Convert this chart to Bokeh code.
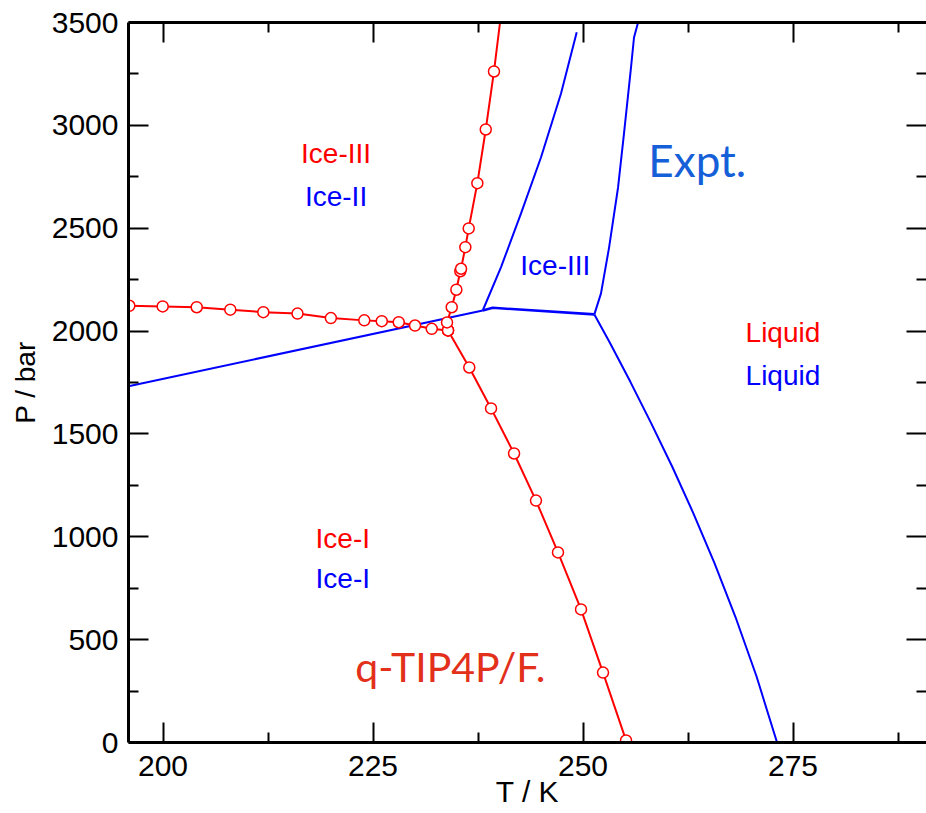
from bokeh.plotting import figure
from bokeh.models import Range1d, LinearAxis, FixedTicker, ColumnDataSource
from bokeh.core.properties import value
from bokeh.embed import file_html
from bokeh.resources import INLINE

# ---------------- data ----------------
# q-TIP4P/F. simulated coexistence lines (red, open circles)
sim_ice1_liq_T = [255.12, 252.38, 249.76, 247.02, 244.40, 241.79, 239.05, 236.46, 233.93]
sim_ice1_liq_P = [10, 340, 647, 924, 1176, 1405, 1624, 1823, 2003]

sim_ice1_ice3_T = [195.99, 199.96, 204.01, 208.01, 211.94, 216.01, 219.98, 223.96,
                   226.04, 228.06, 230.00, 231.99, 233.93]
sim_ice1_ice3_P = [2123, 2120, 2116, 2104, 2092, 2085, 2063, 2052, 2048, 2043, 2027, 2011, 2003]

sim_ice3_ice2_T = [233.93, 233.81, 234.37, 234.92, 235.39, 235.48, 235.99, 236.39,
                   237.42, 238.42, 239.40, 240.30]
sim_ice3_ice2_P = [2003, 2042, 2116, 2201, 2291, 2303, 2408, 2499, 2719, 2980, 3262, 3560]

# Experimental coexistence lines (blue)
exp_ice1_ice2_T = [195.89, 238.06]
exp_ice1_ice2_P = [1732, 2100]

exp_ice1_ice3_T = [238.06, 239.25, 251.35]
exp_ice1_ice3_P = [2100, 2113, 2081]

exp_ice2_ice3_T = [238.06, 240.24, 242.62, 245.00, 247.38, 249.25]
exp_ice2_ice3_P = [2100, 2311, 2572, 2845, 3155, 3453]

exp_ice3_liq_T = [251.35, 252.14, 253.10, 254.17, 254.88, 255.71, 256.07, 256.55, 256.67]
exp_ice3_liq_P = [2081, 2183, 2406, 2698, 2961, 3281, 3427, 3500, 3559]

exp_ice1_liq_T = [273.10, 270.65, 268.15, 265.65, 263.15, 260.65, 258.15, 255.65, 253.15, 251.35]
exp_ice1_liq_P = [0, 322, 610, 872, 1113, 1338, 1549, 1752, 1947, 2081]

# Phase labels
phase_text = ["Ice-III", "Ice-II", "Ice-III", "Liquid", "Liquid", "Ice-I", "Ice-I"]
phase_T = [220.6, 220.6, 246.7, 273.8, 273.8, 221.4, 221.4]
phase_P = [2864, 2655, 2320, 1995, 1786, 990, 796]
phase_color = ["#ff0000", "#0000ff", "#0000ff", "#ff0000", "#0000ff", "#ff0000", "#0000ff"]

x_major = [200, 225, 250, 275]
x_minor = [212.5, 237.5, 262.5, 287.5]
y_major = [0, 500, 1000, 1500, 2000, 2500, 3000, 3500]
y_minor = [250, 750, 1250, 1750, 2250, 2750, 3250]

RED = "#ff0000"
BLUE = "#0000ff"

# ---------------- figure ----------------
p = figure(width=926, height=813,
           x_range=Range1d(195.89, 290.89), y_range=Range1d(0, 3500),
           output_backend="svg", toolbar_location=None,
           min_border_left=128, min_border_right=0, min_border_top=22, min_border_bottom=71,
           x_axis_label="T / K", y_axis_label="P / bar")
p.outline_line_color = None
p.xgrid.visible = False
p.ygrid.visible = False
p.background_fill_color = "white"
p.border_fill_color = "white"

bottom_axis = p.below[0]
left_axis = p.left[0]
top_axis = LinearAxis()
right_axis = LinearAxis()
p.add_layout(top_axis, "above")
p.add_layout(right_axis, "right")

def style_axis(ax, major, minor, labels=True):
    ax.ticker = FixedTicker(ticks=major, minor_ticks=minor)
    ax.axis_line_width = 3
    ax.axis_line_color = "black"
    ax.major_tick_in = 20
    ax.major_tick_out = 0
    ax.minor_tick_in = 10
    ax.minor_tick_out = 0
    ax.major_tick_line_width = 2
    ax.minor_tick_line_width = 2
    ax.major_tick_line_color = "black"
    ax.minor_tick_line_color = "black"
    if labels:
        ax.major_label_text_font = "Liberation Sans"
        ax.major_label_text_font_size = "30px"
        ax.major_label_text_color = "black"
        ax.axis_label_text_font = "Liberation Sans"
        ax.axis_label_text_font_size = "30px"
        ax.axis_label_text_font_style = "normal"
        ax.axis_label_text_color = "black"
    else:
        ax.major_label_overrides = {t: "" for t in major}
        ax.major_label_text_font_size = "1px"
        ax.major_label_standoff = 0
        ax.axis_label = None

style_axis(bottom_axis, x_major, x_minor)
style_axis(left_axis, y_major, y_minor)
style_axis(top_axis, x_major, x_minor, labels=False)
style_axis(right_axis, y_major, y_minor, labels=False)
right_axis.axis_line_color = None

bottom_axis.major_label_standoff = 13
bottom_axis.axis_label_standoff = -4
left_axis.major_label_standoff = 10
left_axis.axis_label_standoff = 8
left_axis.axis_label_text_font_size = "28px"

# experimental lines
for T, P in [(exp_ice1_ice2_T, exp_ice1_ice2_P), (exp_ice2_ice3_T, exp_ice2_ice3_P),
             (exp_ice3_liq_T, exp_ice3_liq_P), (exp_ice1_liq_T, exp_ice1_liq_P)]:
    p.line(T, P, line_color=BLUE, line_width=2)
p.line(exp_ice1_ice3_T, exp_ice1_ice3_P, line_color=BLUE, line_width=2.6)

# simulated lines
for T, P in [(sim_ice1_liq_T, sim_ice1_liq_P), (sim_ice1_ice3_T, sim_ice1_ice3_P),
             (sim_ice3_ice2_T, sim_ice3_ice2_P)]:
    p.line(T, P, line_color=RED, line_width=2)
for T, P in [(sim_ice1_liq_T, sim_ice1_liq_P), (sim_ice1_ice3_T, sim_ice1_ice3_P),
             (sim_ice3_ice2_T, sim_ice3_ice2_P)]:
    p.scatter(T, P, marker="circle", size=11, line_color=RED, line_width=1.5,
              fill_color="white")

# phase labels
src = ColumnDataSource(dict(x=phase_T, y=phase_P, text=phase_text, color=phase_color))
p.text(x="x", y="y", text="text", text_color="color", source=src,
       text_font=value("Liberation Sans"), text_font_size=value("28px"),
       text_align="center", text_baseline="middle")

p.text(x=[263.6], y=[2830], text=["Expt."], text_color="#1560d8",
       text_font=value("Lato"), text_font_size=value("44px"),
       text_align="center", text_baseline="middle")
p.text(x=[234.2], y=[369], text=["q-TIP4P/F."], text_color="#e2301a",
       text_font=value("Lato"), text_font_size=value("41px"),
       text_align="center", text_baseline="middle")

open("out.html", "w").write(file_html(p, INLINE))
